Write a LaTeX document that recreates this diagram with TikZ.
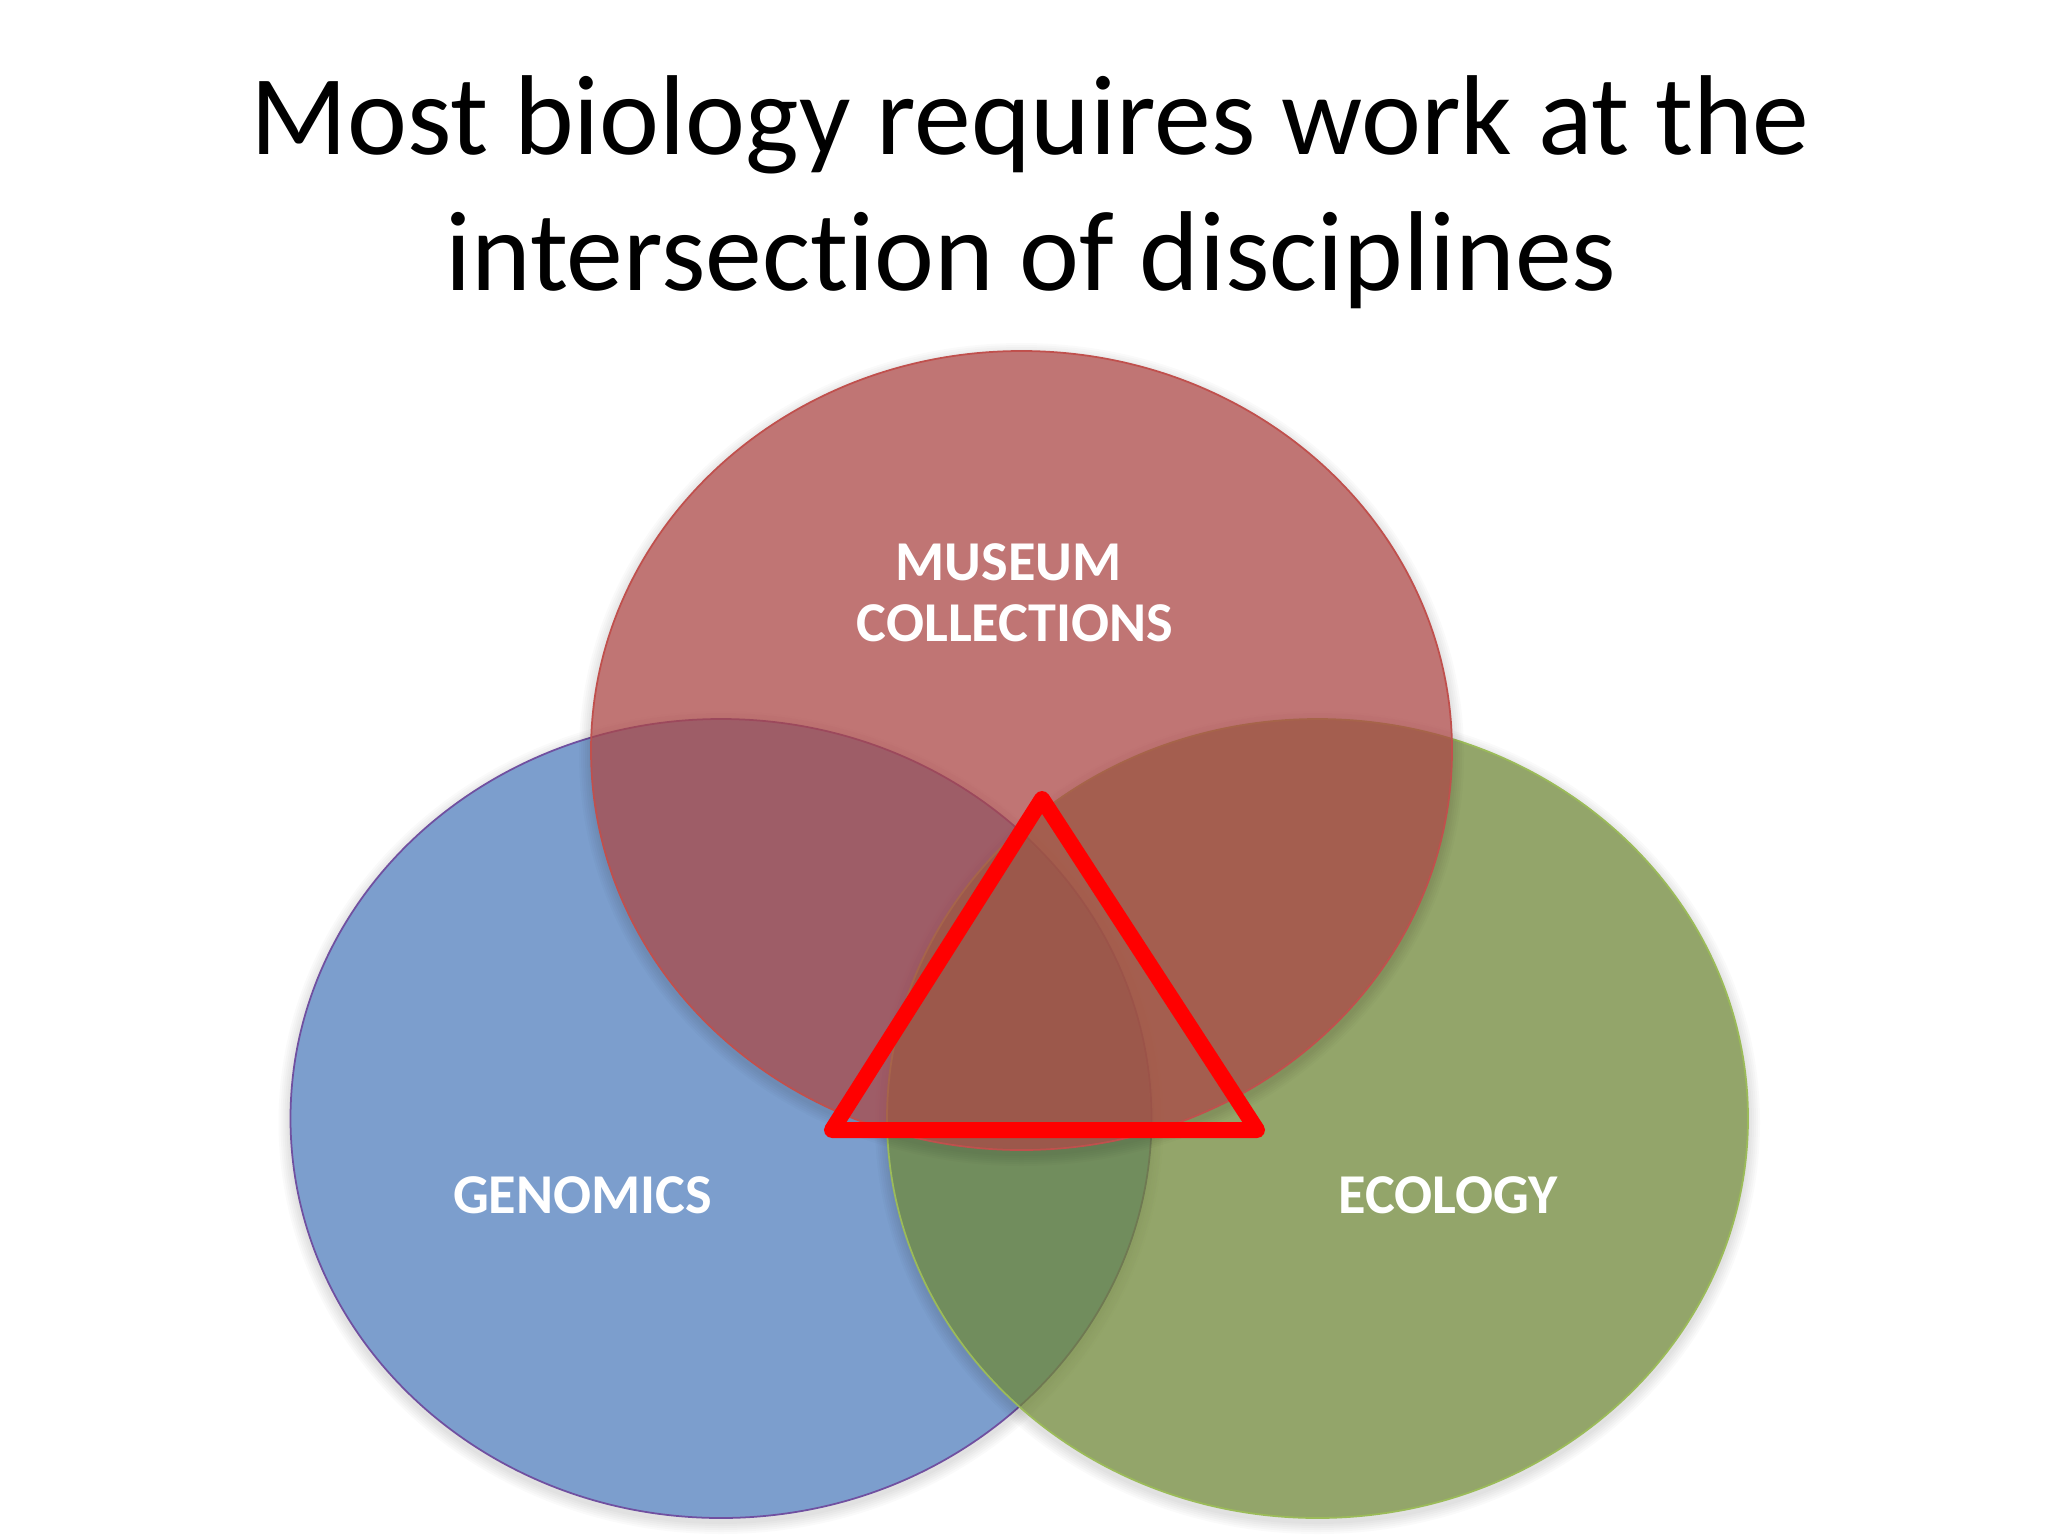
\documentclass[tikz,border=0pt]{standalone}
\usepackage{fontspec}
\setmainfont{Carlito}[Ligatures=NoCommon]
\usepackage{tikz}

\definecolor{musred}{RGB}{171,71,70}
\definecolor{musline}{RGB}{192,80,77}
\definecolor{genblue}{RGB}{80,126,188}
\definecolor{genline}{RGB}{112,80,160}
\definecolor{ecogreen}{RGB}{111,135,56}
\definecolor{ecoline}{RGB}{155,187,89}

\begin{document}
\begin{tikzpicture}[x=0.01cm, y=-0.01cm,
    lbl/.style={text=white, font=\fontsize{16}{17.4}\selectfont\bfseries, align=center},
    ttl/.style={anchor=base, font=\fontsize{32.3}{38}\selectfont}]
    \useasboundingbox (0,0) rectangle (2048,1536);

    % draw the three sets with their soft shadows
    \foreach \cx/\cy/\col/\edge in {721/1118.5/genblue/genline, 1317.5/1118.5/ecogreen/ecoline, 1021.5/750.5/musred/musline}
    {
      \begin{scope}[even odd rule]
        \clip (0,0) rectangle (2048,1536) (\cx,\cy) ellipse [x radius=430.5, y radius=399.5];
        \foreach \r in {2,4,...,12}
          \fill[black, opacity=0.02] (\cx,\cy+4) ellipse [x radius=430.5+\r, y radius=399.5+\r];
      \end{scope}
      \draw[\edge, fill=\col, fill opacity=0.75, line width=0.5pt] (\cx,\cy) ellipse [x radius=430.5, y radius=399.5];
    }

    % draw the triangle at the intersection
    \coordinate (apex) at (1042,799);
    \coordinate (left) at (832,1130);
    \coordinate (right) at (1257,1130);
    \draw[red, line width=4.55pt, line join=round] (apex) -- (left) -- (right) -- cycle;

    % draw labels
    \node[lbl] (museum) at (1015,593) {MUSEUM\kern0.23em\\COLLECTIONS};
    \node[lbl, anchor=base] (genomics) at (582.5,1213) {GENOMICS};
    \node[lbl, anchor=base] (ecology) at (1448,1213) {ECOLOGY};

    % draw title
    \node[ttl] (title1) at (1030,154) {Most biology requires work at the};
    \node[ttl] (title2) at (1031,290) {intersection of disciplines};
\end{tikzpicture}
\end{document}
